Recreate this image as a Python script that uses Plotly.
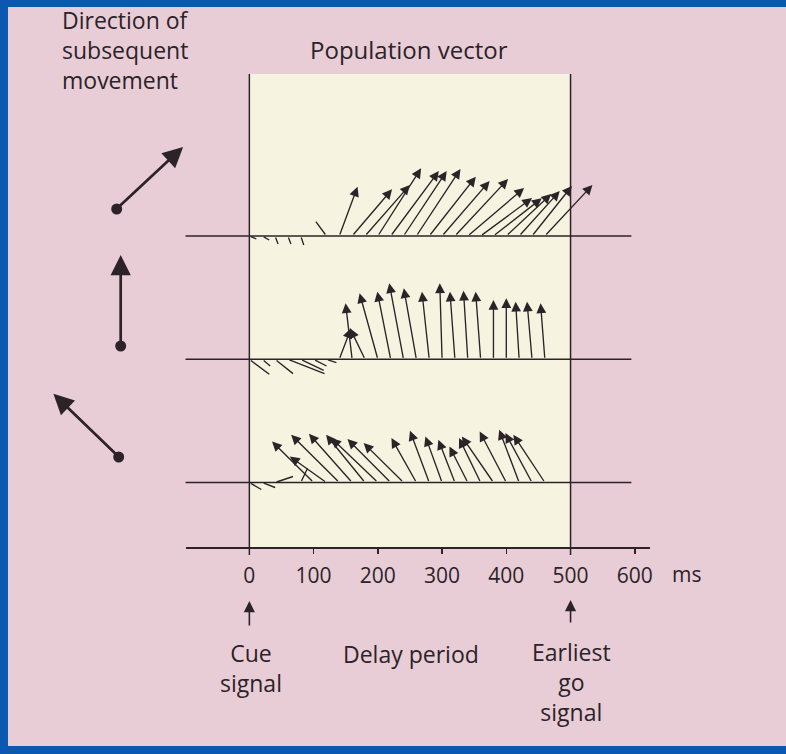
import math
import plotly.graph_objects as go

W, H = 786, 754
PX = 0.644          # screen pixels per millisecond (and per y unit)
X0_PX, AX_PX = 250, 548   # pixel of t=0 and of the time axis

INK = "#2b2328"
PINK = "#e9cdd6"
CREAM = "#f6f4e0"
BLUE = "#0a58b0"
FONT = "Open Sans"

# ---------------- data: population vectors (time in ms, components in a.u.) ----
top_t = [0, 20, 40, 60, 80, 120, 140, 160, 180, 200, 220, 240, 260, 280, 300,
         320, 340, 360, 380, 400, 420, 440, 460]
top_vx = [7, 7, 3, 3, 3, -10.6, 18.3, 40, 45, 43.4, 48.3, 43.3, 44.2, 46.7, 47.7,
          53.3, 56.5, 51.6, 48.4, 45, 40.7, 40, 47.7]
top_vy = [-3, -4, -8, -8, -9, 14.3, 49.3, 46.7, 51, 67.7, 65, 65, 67, 59.3, 55,
          57, 48, 38, 37.7, 42, 45, 50, 51]

mid_t = [0, 20, 40, 60, 80, 100, 120, 140, 160, 180, 200, 220, 240, 260, 280,
         300, 320, 340, 360, 380, 400, 420, 440, 460]
mid_vx = [20, 8, 18, 36.7, 23, 13, 10, 11.7, -6.6, -15, -18.3, -13.4, -14.3, -12.6,
          -7.3, -2.3, -5, -4.3, -5, 0, 0, -3.6, -5, -4.3]
mid_vy = [-15, -6.7, -14.3, -14.3, -11, -6.7, -3.3, 31, 56, 31, 66, 67.6, 76, 71,
          67.6, 76, 67.6, 68.6, 67.6, 59.3, 61, 57.6, 57.6, 56]

bot_t = [0, 20, 40, 80, 100, 120, 140, 160, 180, 200, 220, 240, 260, 280, 300,
         320, 340, 360, 380, 400, 420, 440, 460]
bot_vx = [12, 13, 18, 6.7, -41.7, -36.7, -48.3, -43.3, -39, -46.7, -43.3, -40, -25,
          -19.3, -16.7, -16.6, -18.4, -21.6, -31.7, -26.7, -20, -26.7, -31.6]
bot_vy = [-7, -5, 6, 14, 41, 26, 47.7, 48.7, 47.7, 44.4, 43.4, 39.4, 44.4, 51.7, 46,
          42.7, 36, 44.4, 46, 51, 52.7, 49.4, 47.7]

# direction of subsequent movement (degrees) for each row
move_dir = [43, 90, 136]

tick_vals = [0, 100, 200, 300, 400, 500, 600]
tick_text = ["0", "100", "200", "300", "400", "500", "600"]

# ---------------- helpers (pixel -> coords) ----------------
def dx(px):
    return (px - X0_PX) / PX

def dy(py):
    return (AX_PX - py) / PX

def pxp(px):
    return px / W

def pyp(py):
    return 1 - py / H

VS = 1 / PX
row_base_px = [236, 359.3, 482.5]
row_base = [dy(p) for p in row_base_px]

fig = go.Figure()
fig.add_trace(go.Scatter(x=[0], y=[0], mode="markers", marker=dict(size=0, opacity=0),
                         showlegend=False, hoverinfo="skip"))

shapes = []
# pink page
shapes.append(dict(type="rect", xref="paper", yref="paper", x0=pxp(8), x1=pxp(800),
                   y0=pyp(746), y1=pyp(7), fillcolor=PINK, line=dict(width=0), layer="below"))
# cream delay-period box
shapes.append(dict(type="rect", xref="x", yref="y", x0=0, x1=500, y0=0, y1=dy(74),
                   fillcolor=CREAM, line=dict(width=0), layer="below"))
for xv in (0, 500):
    shapes.append(dict(type="line", xref="x", yref="y", x0=xv, x1=xv, y0=dy(555), y1=dy(74),
                       line=dict(color=INK, width=1.5)))
# baselines of the three rows
for b in row_base:
    shapes.append(dict(type="line", xref="x", yref="y", x0=dx(185), x1=dx(633), y0=b, y1=b,
                       line=dict(color=INK, width=1.6)))

annotations = []

def add_vec(t, vx, vy, base):
    mag = math.hypot(vx, vy)
    head = vy > 0 and mag > 25
    annotations.append(dict(x=t + vx * VS, y=base + vy * VS, ax=t, ay=base,
                            xref="x", yref="y", axref="x", ayref="y", text="",
                            showarrow=True, arrowhead=2 if head else 0,
                            arrowsize=1.45, arrowwidth=1.35, arrowcolor=INK))

for ts, vxs, vys, b in ((top_t, top_vx, top_vy, row_base[0]),
                        (mid_t, mid_vx, mid_vy, row_base[1]),
                        (bot_t, bot_vx, bot_vy, row_base[2])):
    for t, vx, vy in zip(ts, vxs, vys):
        add_vec(t, vx, vy, b)

# legend arrows: direction of subsequent movement
dot_px = [(117, 209), (121, 346), (119, 457)]
L = 91
for (px, py), ang in zip(dot_px, move_dir):
    a = math.radians(ang)
    hx, hy = px + L * math.cos(a), py - L * math.sin(a)
    annotations.append(dict(x=pxp(hx), y=pyp(hy), xref="paper", yref="paper",
                            ax=px - hx, ay=py - hy, axref="pixel", ayref="pixel", text="",
                            showarrow=True, arrowhead=2, arrowsize=1.5, arrowwidth=2.7,
                            arrowcolor=INK))
    r = 5.5
    shapes.append(dict(type="circle", xref="paper", yref="paper",
                       x0=pxp(px - r), x1=pxp(px + r), y0=pyp(py + r), y1=pyp(py - r),
                       fillcolor=INK, line=dict(width=0)))

# cue / go signal arrows under the axis
for tv, (tail, tip) in ((0, (627, 601)), (500, (624, 600))):
    annotations.append(dict(x=tv, y=dy(tip), ax=tv, ay=dy(tail), xref="x", yref="y",
                            axref="x", ayref="y", text="", showarrow=True, arrowhead=2,
                            arrowsize=1.4, arrowwidth=1.6, arrowcolor=INK))

def txt(s, px, py, size=23, xanchor="center", align="center"):
    annotations.append(dict(text=s, x=pxp(px), y=pyp(py), xref="paper", yref="paper",
                            xanchor=xanchor, yanchor="middle", align=align, showarrow=False,
                            font=dict(family=FONT, size=size, color=INK)))

txt("Direction of<br>subsequent<br>movement", 60, 50, xanchor="left", align="left")
txt("Population vector", 410, 49, size=24)
txt("ms", 688, 574, size=21)
txt("Cue<br>signal", 252, 668)
txt("Delay period", 412, 654)
txt("Earliest<br>go<br>signal", 573, 682)

fig.update_layout(
    width=W, height=H, margin=dict(l=0, r=0, t=0, b=0),
    paper_bgcolor=BLUE, plot_bgcolor="rgba(0,0,0,0)",
    showlegend=False, shapes=shapes, annotations=annotations,
    xaxis=dict(domain=[186 / W, 652 / W], range=[dx(186), dx(652)],
               anchor="free", position=1 - AX_PX / H,
               showgrid=False, zeroline=False, showline=True, linecolor=INK, linewidth=2,
               ticks="outside", ticklen=5, tickwidth=1.5, tickcolor=INK,
               tickvals=tick_vals, ticktext=tick_text, ticklabelstandoff=4,
               tickfont=dict(family=FONT, size=21, color=INK)),
    yaxis=dict(domain=[0, 1], range=[dy(H), dy(0)], visible=False),
)

fig.write_html("out.html", config={"displayModeBar": False, "staticPlot": True},
               post_script="document.body.style.margin='0';document.body.style.overflow='hidden';")
